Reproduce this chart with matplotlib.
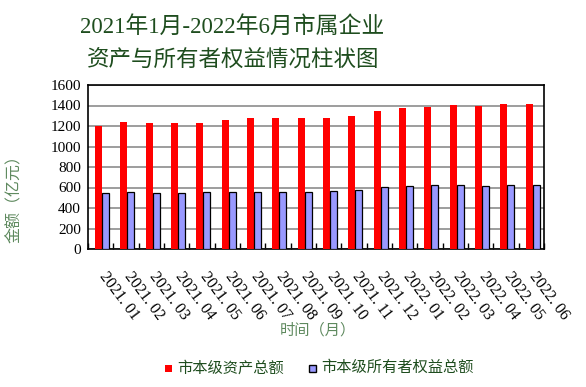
import matplotlib
matplotlib.use("Agg")
import matplotlib.pyplot as plt
import numpy as np

months = ["2021. 01", "2021. 02", "2021. 03", "2021. 04", "2021. 05", "2021. 06",
          "2021. 07", "2021. 08", "2021. 09", "2021. 10", "2021. 11", "2021. 12",
          "2022. 01", "2022. 02", "2022. 03", "2022. 04", "2022. 05", "2022. 06"]
assets = [1203, 1239, 1233, 1233, 1226, 1259, 1275, 1281, 1281, 1281, 1301, 1343,
          1372, 1382, 1405, 1398, 1418, 1418]
equity = [550, 553, 550, 550, 553, 553, 559, 559, 559, 569, 576, 608,
          618, 624, 624, 618, 624, 624]
yticks = [0, 200, 400, 600, 800, 1000, 1200, 1400, 1600]

SERIF = ["Liberation Serif", "Noto Sans CJK SC"]
title_color = "#1e4d1e"
axis_title_color = "#5f8a5f"

fig = plt.figure(figsize=(5.86, 3.87), dpi=100)
ax = fig.add_axes([88/586, 1-249/387, (544-88)/586, (249-85)/387])

x = np.arange(len(months))
w = 0.28
ax.bar(x + 0.05 - w/2, assets, width=w, color="#ff0000", edgecolor="none", zorder=3)
ax.bar(x + 0.05 + w/2, equity, width=w, color="#9999ff", edgecolor="#000000",
       linewidth=0.9, zorder=3)

ax.set_xlim(-0.5, len(months) - 0.5)
ax.set_ylim(0, 1600)
ax.set_yticks(yticks)
ax.set_yticklabels([str(v) for v in yticks], family=SERIF, fontsize=11)
ax.yaxis.grid(True, color="#8c8c8c", linewidth=1.2, zorder=0)
ax.tick_params(axis="y", length=0, pad=5)

ax.set_xticks(np.arange(len(months) + 1) - 0.5, minor=False)
ax.set_xticklabels([])
ax.tick_params(axis="x", direction="in", length=4, width=1, color="black")
for i, m in enumerate(months):
    ax.text(i - 0.2, -0.12, m, transform=ax.get_xaxis_transform(),
            rotation=-53, ha="left", va="top", family=SERIF, fontsize=11.5,
            rotation_mode="default")

for s in ax.spines.values():
    s.set_color("#000000")
    s.set_linewidth(1.2)

fig.text(15/586, 1-195/387, "金额（亿元）", rotation=90, ha="center", va="center",
         family=SERIF, fontsize=11.5, color=axis_title_color)
fig.text(318/586, 1-330/387, "时间（月）", ha="center", va="center",
         family=SERIF, fontsize=11, color=axis_title_color)

fig.text(232/586, 1-27/387, "2021年1月-2022年6月市属企业", ha="center", va="center",
         family=SERIF, fontsize=16.5, color=title_color)
fig.text(233/586, 1-60/387, "资产与所有者权益情况柱状图", ha="center", va="center",
         family=SERIF, fontsize=16.2, color=title_color)

# legend
fig.patches.append(plt.Rectangle((165/586, 1-372/387), 7/586, 7/387, transform=fig.transFigure,
                                 facecolor="#ff0000", edgecolor="none"))
fig.text(177/586, 1-368/387, "市本级资产总额", ha="left", va="center",
         family=SERIF, fontsize=11, color=title_color)
fig.patches.append(plt.Rectangle((309/586, 1-372/387), 7/586, 7/387, transform=fig.transFigure,
                                 facecolor="#9999ff", edgecolor="black", linewidth=1))
fig.text(321/586, 1-368/387, "市本级所有者权益总额", ha="left", va="center",
         family=SERIF, fontsize=11, color=title_color)

fig.savefig("out.png", dpi=100)
